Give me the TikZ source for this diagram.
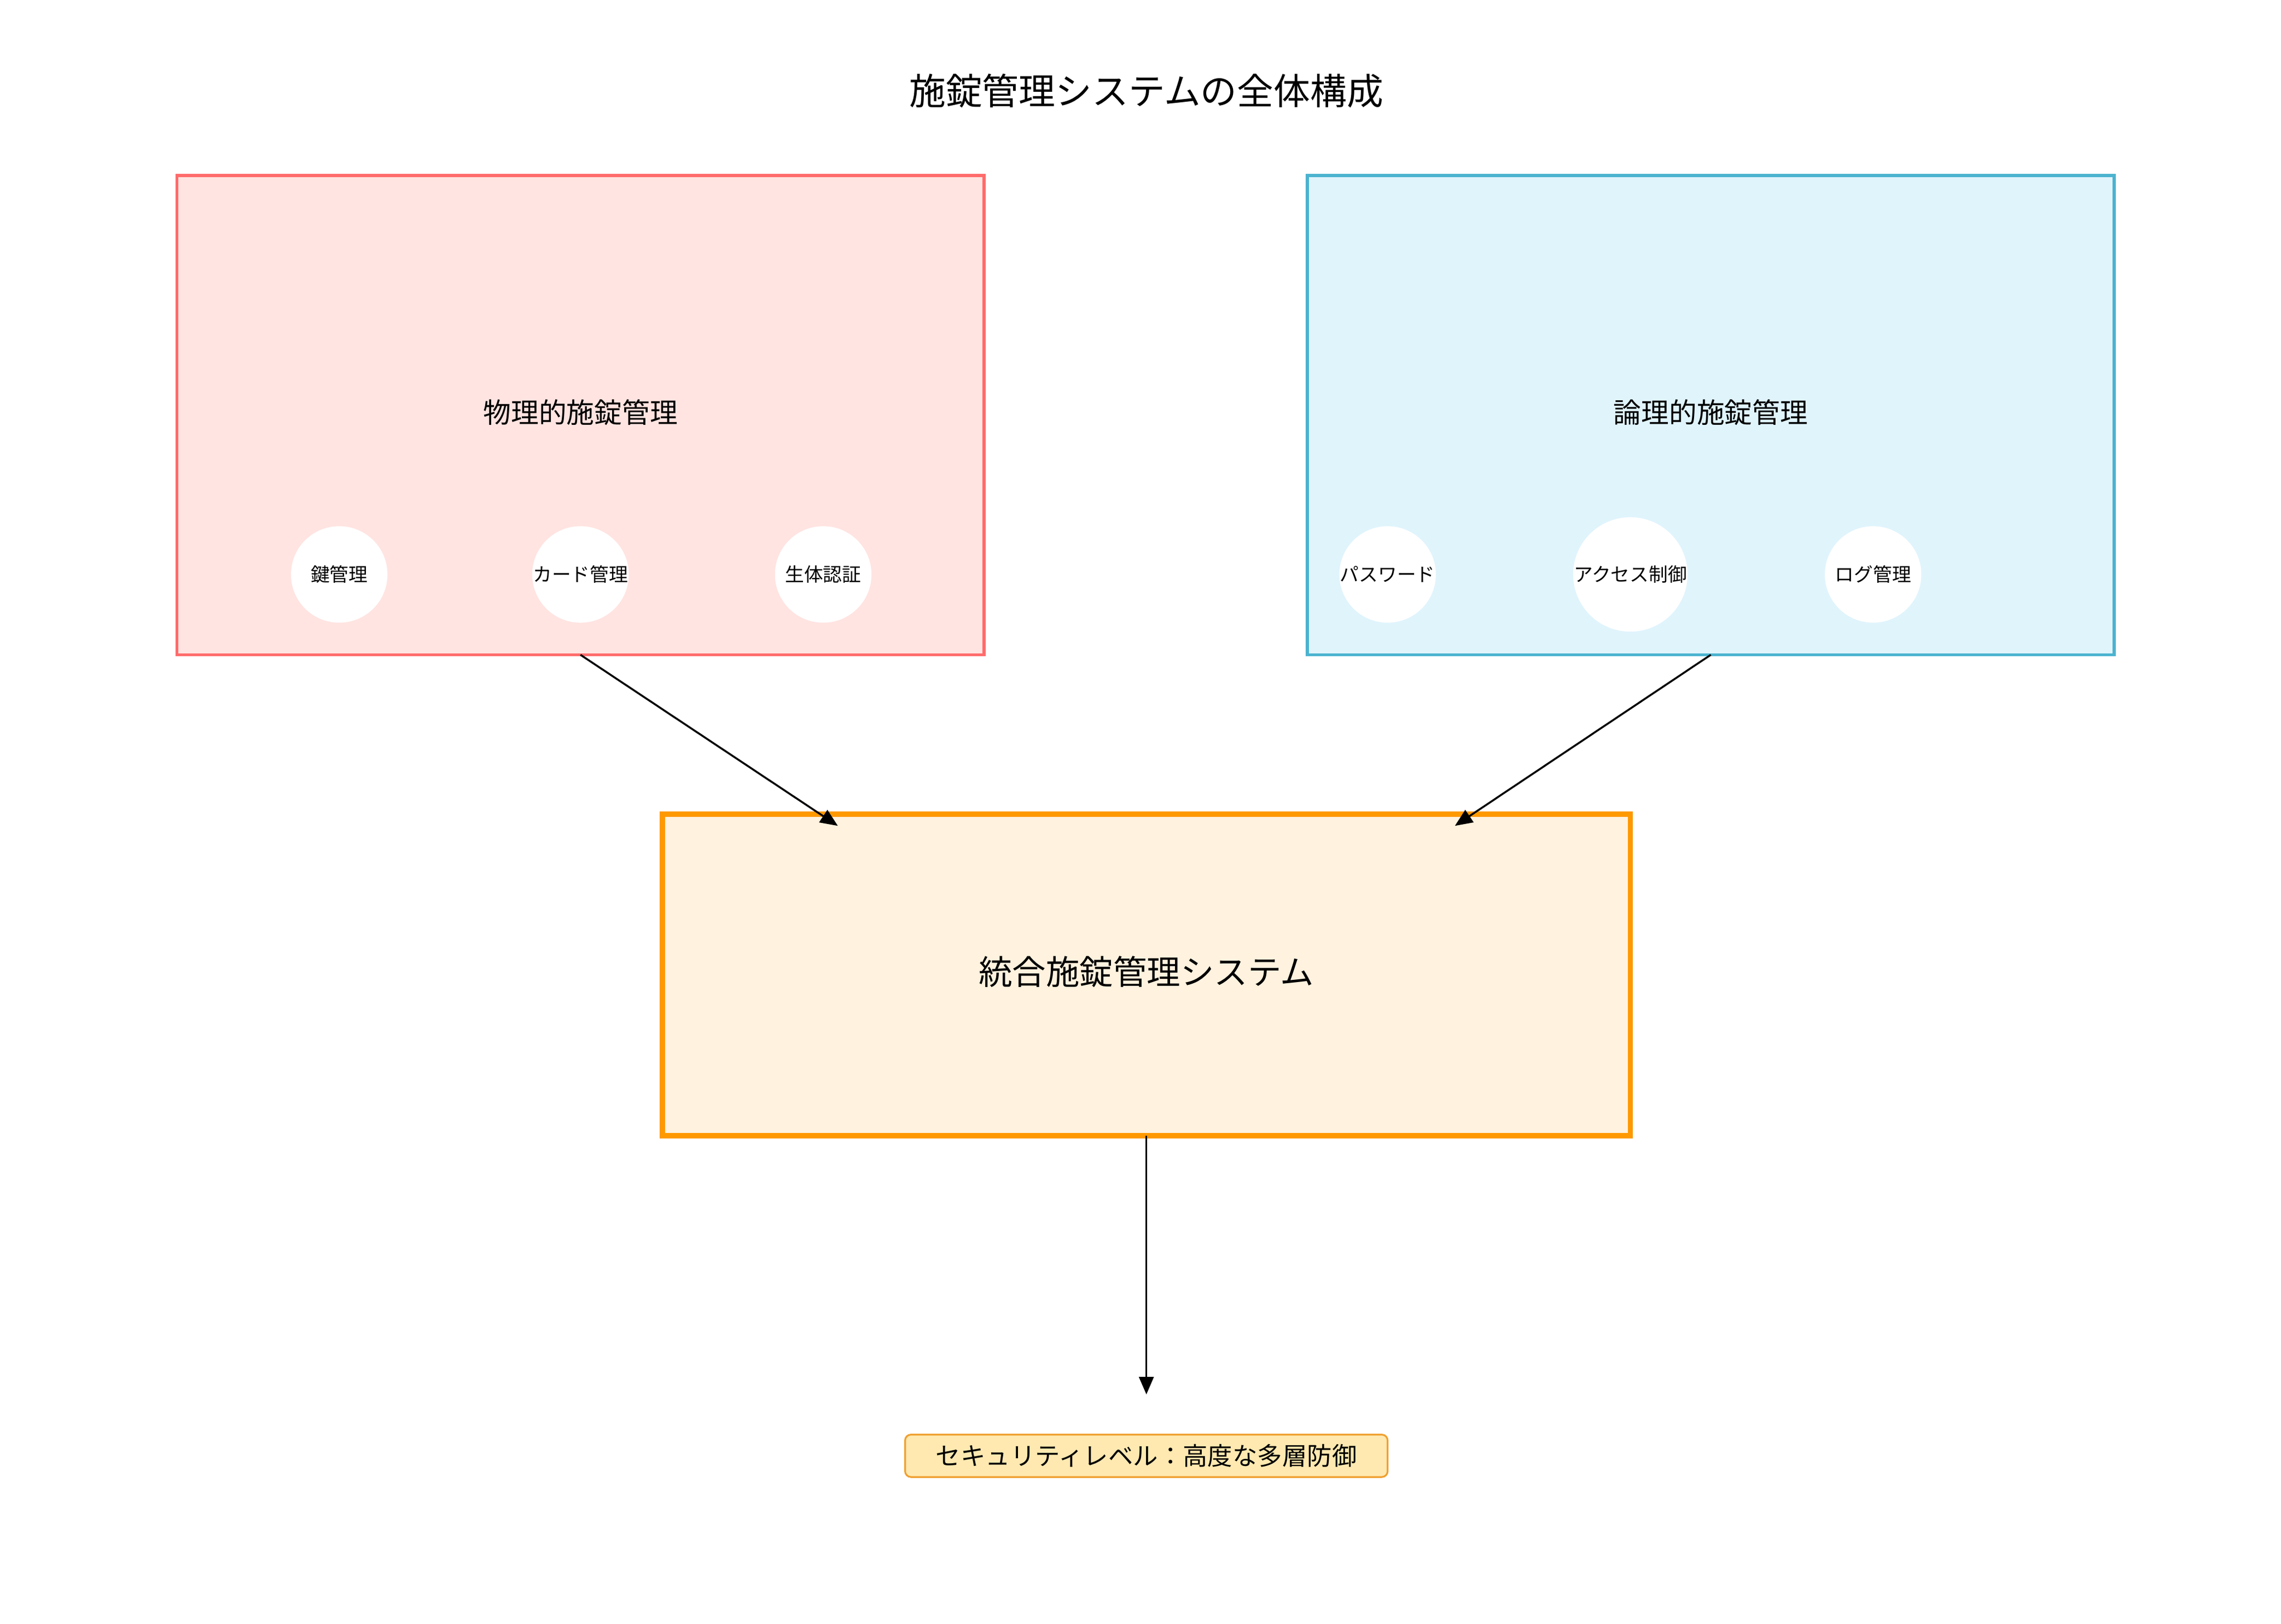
\documentclass[tikz,border=0pt]{standalone}
\usepackage{fontspec}
\setmainfont{Noto Sans CJK JP}
\usetikzlibrary{arrows.meta}
\begin{document}
\begin{tikzpicture}[x=1pt,y=-1pt,
  grp/.style={draw=#1,line width=2.2pt,inner sep=0pt},
  circ/.style={circle,fill=white,minimum size=66pt,inner sep=0pt,font=\fontsize{13}{15}\selectfont},
  arr/.style={-{Triangle[length=12pt,width=10pt]},line width=1.3pt}]
\useasboundingbox (0,0) rectangle (1560,1111);
\definecolor{lf}{HTML}{FFE4E1}\definecolor{ls}{HTML}{FF6B6B}
\definecolor{rf}{HTML}{E0F4FC}\definecolor{rs}{HTML}{4BB3CF}
\definecolor{cf}{HTML}{FFF2DE}\definecolor{cs}{HTML}{FF9900}
\definecolor{bf}{HTML}{FFE9B0}\definecolor{bs}{HTML}{F0A030}
\node (title) at (784,62) {\fontsize{25}{30}\selectfont 施錠管理システムの全体構成};
\draw[grp=ls,fill=lf] (121,120) rectangle (673,448);
\draw[grp=rs,fill=rf] (894,120) rectangle (1446,448);
\draw[draw=cs,line width=3.5pt,fill=cf] (453,557) rectangle (1115,777);
\node (lt) at (397,282) {\fontsize{19}{23}\selectfont 物理的施錠管理};
\node (rt) at (1170,282) {\fontsize{19}{23}\selectfont 論理的施錠管理};
\node (ct) at (784,665) {\fontsize{23}{28}\selectfont 統合施錠管理システム};
\node[circ] (c1) at (232,393) {鍵管理};
\node[circ] (c2) at (397,393) {カード管理};
\node[circ] (c3) at (563,393) {生体認証};
\node[circ] (c4) at (949,393) {パスワード};
\node[circ] (c5) at (1115,393) {アクセス制御};
\node[circ] (c6) at (1281,393) {ログ管理};
\node[draw=bs,fill=bf,rounded corners=4pt,line width=1.2pt,minimum width=330pt,minimum height=29pt,inner sep=0pt,font=\fontsize{17}{20}\selectfont] (lvl) at (784,996) {セキュリティレベル：高度な多層防御};
\coordinate (lb) at (397,448); \coordinate (rb) at (1170,448); \coordinate (cb) at (784,777);
\coordinate (e1) at (573,565); \coordinate (e2) at (995,565); \coordinate (e3) at (784,954);
\draw[arr] (lb) -- (e1);
\draw[arr] (rb) -- (e2);
\draw[arr] (cb) -- (e3);
\end{tikzpicture}
\end{document}
